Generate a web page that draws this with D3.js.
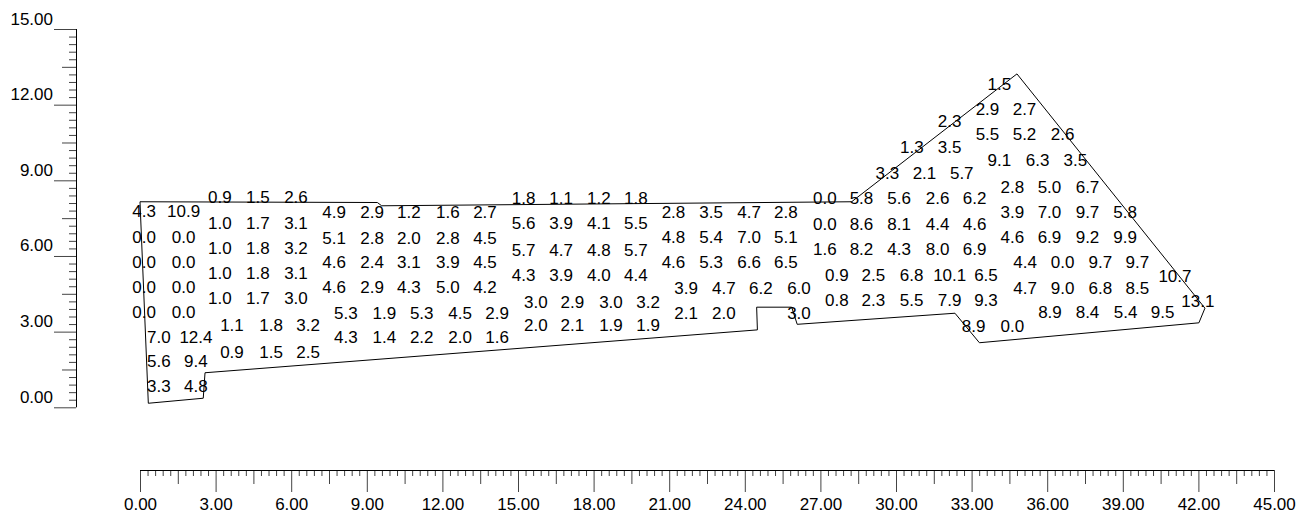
<!DOCTYPE html>
<html>
<head>
<meta charset="utf-8">
<script src="https://cdn.jsdelivr.net/npm/d3@7"></script>
<style>
  html, body { margin: 0; padding: 0; background: #fff; }
  svg text { font-family: "Liberation Sans", Arial, sans-serif; fill: #000; }
</style>
</head>
<body>
<svg id="chart" width="1312" height="516"></svg>
<script>
// Site boundary, easting / northing in metres
const boundary = [
  [0.00, 8.15], [0.33, 0.16], [2.51, 0.36], [2.58, 1.37], [24.50, 3.07],
  [24.47, 3.97], [25.86, 3.97], [26.08, 3.29], [32.34, 3.73], [33.31, 2.56],
  [42.02, 3.35], [42.26, 3.93], [34.80, 13.22], [28.24, 8.15], [9.59, 7.99],
  [9.42, 8.12]
];

// Spot readings, grouped by survey strip: column eastings, row northings, values per row
const stripA  = { cols: [0.16, 1.73], rows: [7.78, 6.75, 5.76, 4.77, 3.78],
  vals: [[4.3, 10.9], [0.0, 0.0], [0.0, 0.0], [0.0, 0.0], [0.0, 0.0]] };
const stripA2 = { cols: [0.75, 2.22], rows: [2.79, 1.84, 0.85],
  vals: [[7.0, 12.4], [5.6, 9.4], [3.3, 4.8]] };
const stripB  = { cols: [3.17, 4.68, 6.19], rows: [8.35, 7.31, 6.32, 5.33, 4.33],
  vals: [[0.9, 1.5, 2.6], [1.0, 1.7, 3.1], [1.0, 1.8, 3.2], [1.0, 1.8, 3.1], [1.0, 1.7, 3.0]] };
const stripB2 = { cols: [3.65, 5.20, 6.67], rows: [3.26, 2.19],
  vals: [[1.1, 1.8, 3.2], [0.9, 1.5, 2.5]] };
const stripC  = { cols: [7.70, 9.21, 10.67, 12.22, 13.69], rows: [7.76, 6.71, 5.76, 4.77],
  vals: [[4.9, 2.9, 1.2, 1.6, 2.7], [5.1, 2.8, 2.0, 2.8, 4.5], [4.6, 2.4, 3.1, 3.9, 4.5], [4.6, 2.9, 4.3, 5.0, 4.2]] };
const stripC2 = { cols: [8.17, 9.70, 11.18, 12.70, 14.17], rows: [3.74, 2.79],
  vals: [[5.3, 1.9, 5.3, 4.5, 2.9], [4.3, 1.4, 2.2, 2.0, 1.6]] };
const stripD  = { cols: [15.22, 16.71, 18.21, 19.68], rows: [8.30, 7.31, 6.24, 5.25],
  vals: [[1.8, 1.1, 1.2, 1.8], [5.6, 3.9, 4.1, 5.5], [5.7, 4.7, 4.8, 5.7], [4.3, 3.9, 4.0, 4.4]] };
const stripD2 = { cols: [15.71, 17.16, 18.69, 20.16], rows: [4.19, 3.26],
  vals: [[3.0, 2.9, 3.0, 3.2], [2.0, 2.1, 1.9, 1.9]] };
const stripE  = { cols: [21.17, 22.66, 24.17, 25.63], rows: [7.76, 6.76, 5.77],
  vals: [[2.8, 3.5, 4.7, 2.8], [4.8, 5.4, 7.0, 5.1], [4.6, 5.3, 6.6, 6.5]] };
const stripE2 = { cols: [21.67, 23.17, 24.64, 26.15], rows: [4.73, 3.74],
  vals: [[3.9, 4.7, 6.2, 6.0], [2.1, 2.0, null, 3.0]] };
const stripF  = { cols: [27.18, 28.63, 30.12, 31.65, 33.12], rows: [8.32, 7.29, 6.28],
  vals: [[0.0, 5.8, 5.6, 2.6, 6.2], [0.0, 8.6, 8.1, 4.4, 4.6], [1.6, 8.2, 4.3, 8.0, 6.9]] };
const stripF2 = { cols: [27.65, 29.10, 30.62, 32.13, 33.57], rows: [5.27, 4.25],
  vals: [[0.9, 2.5, 6.8, 10.1, 6.5], [0.8, 2.3, 5.5, 7.9, 9.3]] };
const stripF3 = { cols: [29.66, 31.13, 32.61], rows: [9.29],
  vals: [[3.3, 2.1, 5.7]] };
const stripH  = { cols: [30.63, 32.13], rows: [11.35, 10.32],
  vals: [[null, 2.3], [1.3, 3.5]] };
const stripG0 = { cols: [33.63, 35.10, 36.61], rows: [11.83, 10.84],
  vals: [[2.9, 2.7, null], [5.5, 5.2, 2.6]] };
const stripG1 = { cols: [34.10, 35.62, 37.12], rows: [12.82, 9.81],
  vals: [[1.5, null, null], [9.1, 6.3, 3.5]] };
const stripG  = { cols: [34.62, 36.09, 37.60, 39.09], rows: [8.75, 7.74, 6.75],
  vals: [[2.8, 5.0, 6.7, null], [3.9, 7.0, 9.7, 5.8], [4.6, 6.9, 9.2, 9.9]] };
const stripG2 = { cols: [35.12, 36.61, 38.11, 39.58], rows: [5.76, 4.74],
  vals: [[4.4, 0.0, 9.7, 9.7], [4.7, 9.0, 6.8, 8.5]] };
const stripG3 = { cols: [36.11, 37.60, 39.11, 40.58], rows: [3.79],
  vals: [[8.9, 8.4, 5.4, 9.5]] };
const stripK  = { cols: [33.08, 34.62], rows: [3.24],
  vals: [[8.9, 0.0]] };
const stripEdge = { cols: [41.07, 41.98], rows: [5.21, 4.23],
  vals: [[10.7, null], [null, 13.1]] };

const strips = [stripA, stripA2, stripB, stripB2, stripC, stripC2, stripD, stripD2,
  stripE, stripE2, stripF, stripF2, stripF3, stripH, stripG0, stripG1, stripG,
  stripG2, stripG3, stripK, stripEdge];

// Axis extents and tick spacing (metres)
const xDomain = [0, 45];
const yDomain = [0, 15];
const minorStep = 0.3;      // every tick
const midEvery = 5;         // 1.5 m
const majorEvery = 10;      // 3 m

// ---- layout ----
const svg = d3.select("#chart");
const x = d3.scaleLinear().domain(xDomain).range([140, 1274]);
const y = d3.scaleLinear().domain(yDomain).range([407.3, 29]);
const xAxisY = 470;
const yAxisX = 76;
const fmt = d3.format(".2f");
const valFmt = d3.format(".1f");

const nX = Math.round((xDomain[1] - xDomain[0]) / minorStep);
const nY = Math.round((yDomain[1] - yDomain[0]) / minorStep);
const ticksOf = (n, pick) => d3.range(0, n + 1).filter(pick).map(i => +(i * minorStep).toFixed(2));

// ---- boundary ----
svg.append("path")
  .datum(boundary)
  .attr("d", d3.line().x(d => x(d[0])).y(d => y(d[1])).curve(d3.curveLinearClosed))
  .attr("fill", "none")
  .attr("stroke", "#000")
  .attr("stroke-width", 1);

// ---- readings ----
const readings = strips.flatMap(s =>
  s.rows.flatMap((ry, ri) =>
    s.cols.map((cx, ci) => ({ e: cx, n: ry, v: s.vals[ri][ci] }))
  )
).filter(d => d.v !== null);

svg.append("g")
  .selectAll("text")
  .data(readings)
  .join("text")
  .attr("x", d => x(d.e))
  .attr("y", d => y(d.n))
  .attr("dy", "0.36em")
  .attr("text-anchor", "middle")
  .attr("font-size", 17)
  .text(d => valFmt(d.v));

// ---- x scale bar ----
function styleAxis(g) {
  g.selectAll(".tick line").attr("stroke", "#444");
  g.select(".domain").remove();
}
const gx = svg.append("g").attr("transform", `translate(0,${xAxisY})`);
gx.append("g").call(d3.axisBottom(x)
    .tickValues(ticksOf(nX, i => i % midEvery !== 0)).tickSize(6).tickSizeOuter(0).tickFormat(""))
  .call(styleAxis);
gx.append("g").call(d3.axisBottom(x)
    .tickValues(ticksOf(nX, i => i % midEvery === 0 && i % majorEvery !== 0)).tickSize(14).tickSizeOuter(0).tickFormat(""))
  .call(styleAxis);
gx.append("g").call(d3.axisBottom(x)
    .tickValues(ticksOf(nX, i => i % majorEvery === 0)).tickSize(22).tickSizeOuter(0).tickFormat(fmt))
  .call(styleAxis)
  .call(g => g.selectAll("text")
    .attr("y", 40).attr("dy", 0)
    .attr("font-size", 17)
    .attr("font-family", null)
    .attr("fill", "#000"));
gx.append("line")
  .attr("x1", x(xDomain[0])).attr("x2", x(xDomain[1]))
  .attr("y1", 0.5).attr("y2", 0.5)
  .attr("stroke", "#000");

// ---- y scale bar ----
const gy = svg.append("g").attr("transform", `translate(${yAxisX},0)`);
gy.append("g").call(d3.axisLeft(y)
    .tickValues(ticksOf(nY, i => i % midEvery !== 0)).tickSize(7).tickSizeOuter(0).tickFormat(""))
  .call(styleAxis);
gy.append("g").call(d3.axisLeft(y)
    .tickValues(ticksOf(nY, i => i % midEvery === 0 && i % majorEvery !== 0)).tickSize(14).tickSizeOuter(0).tickFormat(""))
  .call(styleAxis);
gy.append("g").call(d3.axisLeft(y)
    .tickValues(ticksOf(nY, i => i % majorEvery === 0)).tickSize(22).tickSizeOuter(0).tickFormat(fmt))
  .call(styleAxis)
  .call(g => g.selectAll("text")
    .attr("x", -23).attr("dy", -5)
    .attr("font-size", 17)
    .attr("font-family", null)
    .attr("fill", "#000"));
gy.append("line")
  .attr("x1", 0.5).attr("x2", 0.5)
  .attr("y1", y(yDomain[1])).attr("y2", y(yDomain[0]))
  .attr("stroke", "#000");
</script>
</body>
</html>
